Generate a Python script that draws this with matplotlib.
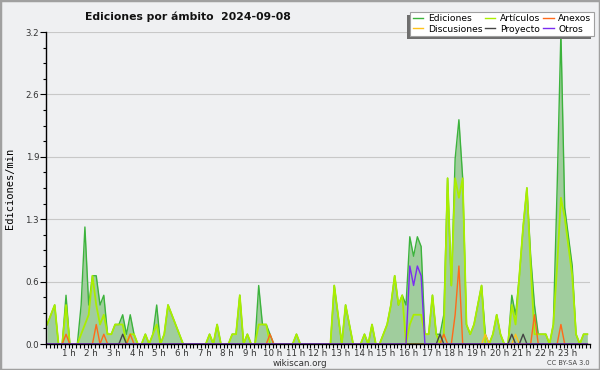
import numpy as np
import matplotlib
matplotlib.use("Agg")
import matplotlib.pyplot as plt
from matplotlib.patches import Rectangle
from matplotlib.lines import Line2D
from matplotlib.transforms import IdentityTransform

# edits per minute, one value per 10-minute slot (144 slots = 24 h)
ediciones = [
    0.2, 0.3, 0.4, 0, 0, 0.5, 0, 0, 0, 0.4, 1.2, 0.4,
    0.7, 0.7, 0.4, 0.5, 0.1, 0.1, 0.2, 0.2, 0.3, 0.1, 0.3, 0.1,
    0, 0, 0.1, 0, 0.1, 0.4, 0, 0.1, 0.4, 0.3, 0.2, 0.1,
    0, 0, 0, 0, 0, 0, 0, 0.1, 0, 0.2, 0, 0,
    0, 0.1, 0.1, 0.5, 0, 0.1, 0, 0, 0.6, 0.2, 0.2, 0.1,
    0, 0, 0, 0, 0, 0, 0.1, 0, 0, 0, 0, 0,
    0, 0, 0, 0, 0.6, 0.3, 0, 0.4, 0.2, 0, 0, 0,
    0.1, 0, 0.2, 0, 0, 0.1, 0.2, 0.4, 0.7, 0.4, 0.5, 0.4,
    1.1, 0.9, 1.1, 1.0, 0.1, 0.1, 0.5, 0.1, 0.1, 0.3, 1.7, 0.6,
    1.9, 2.3, 1.7, 0.2, 0.1, 0.2, 0.4, 0.6, 0.1, 0, 0.1, 0.3,
    0.1, 0, 0, 0.5, 0.3, 0.7, 1.2, 1.6, 0.9, 0.4, 0.1, 0.1,
    0.1, 0, 0.2, 1.6, 3.2, 1.4, 1.1, 0.8, 0.1, 0, 0.1, 0.1,
]
articulos = [
    0.2, 0.3, 0.4, 0, 0, 0.4, 0, 0, 0, 0.1, 0.2, 0.3,
    0.7, 0.4, 0.2, 0.3, 0.1, 0.1, 0.2, 0.2, 0.2, 0, 0.1, 0.1,
    0, 0, 0.1, 0, 0.1, 0.2, 0, 0.1, 0.4, 0.3, 0.2, 0.1,
    0, 0, 0, 0, 0, 0, 0, 0.1, 0, 0.2, 0, 0,
    0, 0.1, 0.1, 0.5, 0, 0.1, 0, 0, 0.2, 0.2, 0.2, 0,
    0, 0, 0, 0, 0, 0, 0.1, 0, 0, 0, 0, 0,
    0, 0, 0, 0, 0.6, 0.3, 0, 0.4, 0.2, 0, 0, 0,
    0.1, 0, 0.2, 0, 0, 0.1, 0.2, 0.4, 0.7, 0.4, 0.5, 0,
    0.2, 0.3, 0.3, 0.3, 0.1, 0.1, 0.5, 0.1, 0, 0.1, 1.7, 0.6,
    1.7, 1.5, 1.7, 0.2, 0.1, 0.2, 0.4, 0.6, 0, 0, 0.1, 0.3,
    0.1, 0, 0, 0.4, 0.2, 0.7, 1.2, 1.6, 0.8, 0.1, 0.1, 0.1,
    0.1, 0, 0.2, 0.8, 1.5, 1.3, 1.0, 0.7, 0.1, 0, 0.1, 0.1,
]
# sparse series: slot index -> value
anexos_slots = [5, 13, 15, 22, 59, 105, 108, 109, 129, 136]
anexos_vals = [0.1, 0.2, 0.1, 0.1, 0.1, 0.1, 0.3, 0.8, 0.3, 0.2]
discusiones_slots = [116, 124]
discusiones_vals = [0.1, 0.1]
proyecto_slots = [20, 104, 123, 126]
proyecto_vals = [0.1, 0.1, 0.1, 0.1]
otros_slots = [96, 97, 98, 99]
otros_vals = [0.8, 0.6, 0.8, 0.7]

hour_labels = [f"{h} h" for h in range(1, 24)]
title = "Ediciones por ámbito  2024-09-08"

BG = "#eff0f2"
FILL = "#a0cd9d"
C_ED = "#3cb33c"
C_ART = "#aaee00"
C_ANX = "#ff6a1a"
C_DIS = "#ffc21a"
C_PRO = "#444444"
C_OTR = "#7a2cf0"


def expand(slots, vals, n=144):
    out = np.zeros(n)
    out[slots] = vals
    return out


def main():
    plt.rcParams["font.family"] = "DejaVu Sans"
    n = len(ediciones)
    t = (np.arange(n) + 0.3) / 6.0

    fig = plt.figure(figsize=(6, 3.7), dpi=100, facecolor=BG)
    ax = fig.add_axes([46 / 600, 1 - 344 / 370, 544 / 600, 312 / 370])
    ax.set_facecolor(BG)

    ax.fill_between(t, 0, ediciones, color=FILL, lw=0, zorder=1)
    ax.plot(t, ediciones, color=C_ED, lw=1.0, zorder=2)
    ax.plot(t, articulos, color=C_ART, lw=1.3, zorder=3)
    ax.plot(t, expand(anexos_slots, anexos_vals), color=C_ANX, lw=1.0, zorder=4)
    ax.plot(t, expand(discusiones_slots, discusiones_vals), color=C_DIS, lw=1.0, zorder=4)
    ax.plot(t, expand(proyecto_slots, proyecto_vals), color=C_PRO, lw=1.0, zorder=4)
    ax.plot(t, expand(otros_slots, otros_vals), color=C_OTR, lw=1.0, zorder=4)

    ax.set_xlim(0, 24)
    ax.set_ylim(0, 3.2)

    yt = np.linspace(0, 3.2, 6)
    ax.set_yticks(yt)
    ax.set_yticklabels([f"{v:.1f}" for v in yt])
    ax.set_yticks(np.linspace(0, 3.2, 21), minor=True)
    ax.set_xticks(range(1, 24))
    ax.set_xticklabels(hour_labels)
    ax.set_xticks(np.arange(0, 24.01, 1 / 6), minor=True)

    ax.tick_params(axis="both", which="both", direction="out", color="black",
                   width=0.8, labelsize=6.2, labelcolor="#333333")
    ax.tick_params(axis="x", which="both", length=3, pad=0.3)
    ax.tick_params(axis="y", which="major", length=4, pad=1)
    ax.tick_params(axis="y", which="minor", length=2)

    ax.yaxis.grid(True, which="major", color="#c8c8c8", lw=0.8)
    ax.set_axisbelow(True)
    for s in ("top", "right"):
        ax.spines[s].set_visible(False)
    for s in ("left", "bottom"):
        ax.spines[s].set_linewidth(1.0)
        ax.spines[s].set_zorder(5)

    fig.text(85 / 600, 1 - 19.5 / 370, title, fontsize=7.8, fontweight="bold",
             ha="left", va="baseline", color="#111111")
    fig.text(10 / 600, 1 - 188 / 370, "Ediciones/min", rotation=90,
             family="DejaVu Sans Mono", fontsize=7.5, ha="center", va="center")
    fig.text(300 / 600, 1 - 363 / 370, "wikiscan.org", fontsize=6.3,
             ha="center", va="center", color="#333333")
    fig.text(590 / 600, 1 - 363 / 370, "CC BY-SA 3.0", fontsize=4.8,
             ha="right", va="center", color="#444444")

    # legend, filled column by column
    names = ["Ediciones", "Discusiones", "Artículos", "Proyecto", "Anexos", "Otros"]
    cols = [C_ED, C_DIS, C_ART, C_PRO, C_ANX, C_OTR]
    handles = [Line2D([], [], color=c, lw=1.0) for c in cols]
    leg = fig.legend(handles, names, ncol=3, loc="upper right",
                     bbox_to_anchor=(594 / 600, 1 - 11.7 / 370), fontsize=6.6,
                     frameon=True, fancybox=False, edgecolor="#a0a0a0",
                     facecolor="white", framealpha=1, borderpad=0.3,
                     labelspacing=0.12, handlelength=1.1, handletextpad=0.5,
                     columnspacing=0.35, borderaxespad=0)
    leg.get_frame().set_linewidth(0.8)
    leg.set_zorder(10)

    fig.canvas.draw()
    bb = leg.get_window_extent()
    shadow = Rectangle((bb.x0 - 3, bb.y0 - 3), bb.width, bb.height,
                       transform=IdentityTransform(), facecolor="#6e6e6e",
                       edgecolor="none", zorder=9)
    fig.add_artist(shadow)

    fig.add_artist(Rectangle((0, 0), 1, 1, transform=fig.transFigure, fill=False,
                             edgecolor="#a0a0a0", lw=2.5, zorder=20))

    fig.savefig("out.png", dpi=100, facecolor=BG)
    plt.close(fig)


if __name__ == "__main__":
    main()
